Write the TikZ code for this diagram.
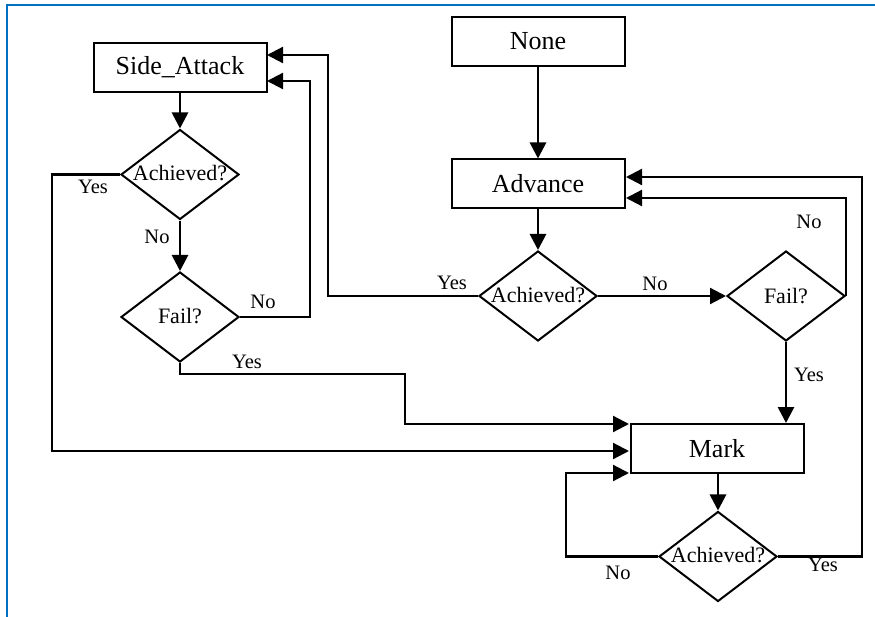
\documentclass[tikz,border=0pt]{standalone}
\usepackage{fontspec}
\setmainfont{Liberation Serif}
\usetikzlibrary{arrows.meta,shapes.geometric}
\definecolor{frameblue}{RGB}{0,112,192}
\begin{document}
\begin{tikzpicture}[x=1pt,y=-1pt,
  box/.style={draw,line width=2pt,rectangle,minimum width=173pt,minimum height=49pt,inner sep=0pt,font=\fontsize{26}{30}\selectfont},
  decision/.style={draw,line width=2pt,diamond,minimum width=118pt,minimum height=90pt,inner sep=0pt,font=\fontsize{22}{26}\selectfont},
  lbl/.style={inner sep=0pt,font=\fontsize{20.5}{24}\selectfont},
  flow/.style={line width=2.2pt,-{Triangle[length=16pt,width=16pt]}},
  mainflow/.style={flow,line width=2.8pt},
]
\useasboundingbox (0,0) rectangle (875,617);
% frame
\draw[frameblue,line width=2.6pt] (7,617) -- (7,5) -- (875,5);

% states
\node[box] (sa)   at (180,67.5) {Side\_Attack};
\node[box] (none) at (538,41.5) {None};
\node[box] (adv)  at (538,184)  {Advance};
\node[box] (mark) at (717,448.5) {Mark};

% decisions
\node[decision] (d1) at (180,174.5) {\raisebox{3pt}{\makebox[0pt]{Achieved?}}};
\node[decision] (d2) at (180,317)   {\raisebox{3pt}{\makebox[0pt]{Fail?}}};
\node[decision] (d3) at (538,296)   {\raisebox{3pt}{\makebox[0pt]{Achieved?}}};
\node[decision] (d4) at (786,296)   {\raisebox{1pt}{\makebox[0pt]{Fail?}}};
\node[decision] (d5) at (718,556.5) {\raisebox{3pt}{\makebox[0pt]{Achieved?}}};

% entry points on the boxes
\coordinate (saA) at (267,55);
\coordinate (saB) at (267,81);
\coordinate (advA) at (626,177);
\coordinate (advB) at (626,198);
\coordinate (mkA) at (629,424);
\coordinate (mkC) at (629,451);
\coordinate (mkB) at (629,473);

% straight flows
\draw[mainflow] (none) -- (adv);
\draw[mainflow] (adv) -- (d3);
\draw[mainflow] (sa) -- (d1);
\draw[mainflow] (d1) -- (d2);
\draw[mainflow] (mark.south -| d5.north) -- (d5);
\draw[flow] (d3.east) -- (d4.west);
\draw[mainflow] (d4.south) -- (d4.south |- mark.north);

% loops back
\draw[flow] (d3.west) -- (328,296) -- (328,55) -- (saA);
\draw[flow] (d2.east) -- (310,317) -- (310,81) -- (saB);
\draw[flow] (d2.south) -- (180,374) -- (405,374) -- (405,424) -- (mkA);
\draw[flow] (d1.west) -- (52,174.5) -- (52,451) -- (mkC);
\draw[flow] (d4.east) -- (846,296) -- (846,198) -- (advB);
\draw[flow] (d5.east) -- (862,556.5) -- (862,177) -- (advA);
\draw[flow] (d5.west) -- (566,556.5) -- (566,473) -- (mkB);

% branch labels
\node[lbl] (l1) at (93,187)  {Yes};
\node[lbl] (l2) at (157,237) {No};
\node[lbl] (l3) at (263,302) {No};
\node[lbl] (l4) at (247,362) {Yes};
\node[lbl] (l5) at (452,283) {Yes};
\node[lbl] (l6) at (655,284) {No};
\node[lbl] (l7) at (809,222) {No};
\node[lbl] (l8) at (809,375) {Yes};
\node[lbl] (l9) at (618,573) {No};
\node[lbl] (l10) at (823,565) {Yes};
\end{tikzpicture}
\end{document}
